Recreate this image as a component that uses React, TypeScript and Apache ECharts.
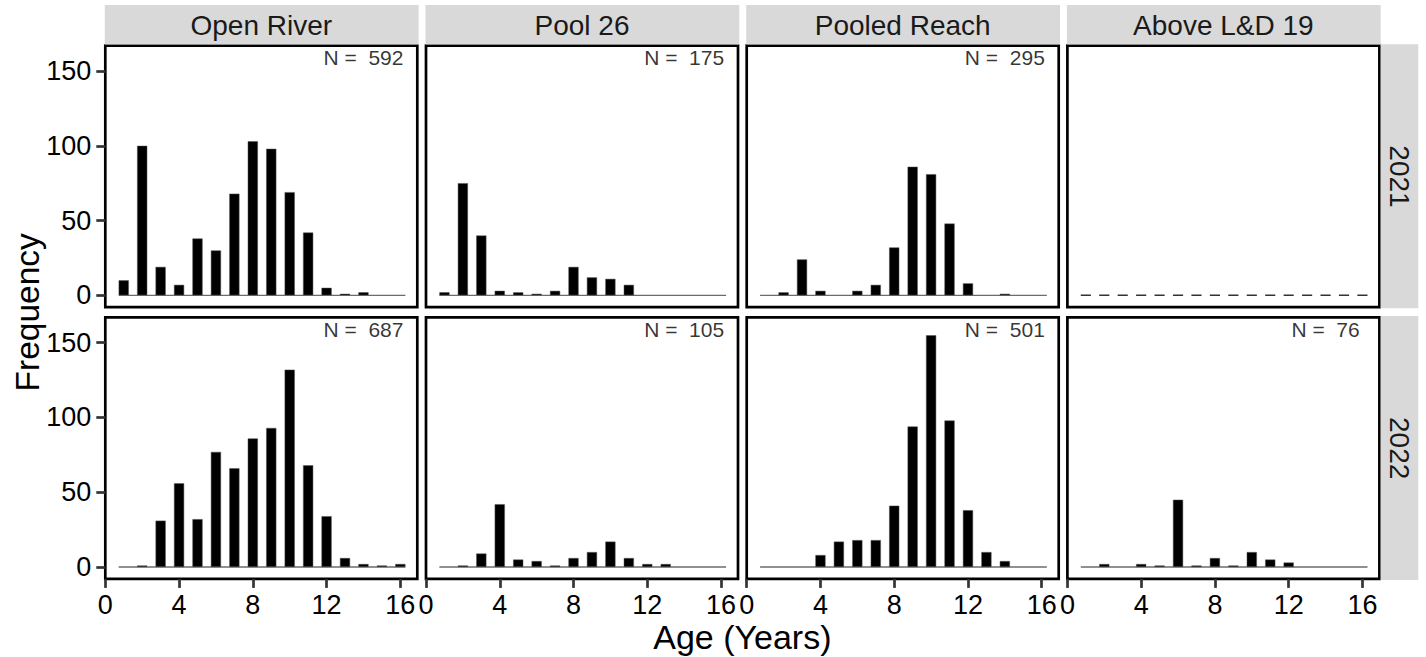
import React, { useEffect, useRef } from "react";
import * as echarts from "echarts";

// ---- data ----
const ages = [1, 2, 3, 4, 5, 6, 7, 8, 9, 10, 11, 12, 13, 14, 15, 16];
const sites = ["Open River", "Pool 26", "Pooled Reach", "Above L&D 19"];
const years = ["2021", "2022"];

const openRiver2021 = [10, 100, 19, 7, 38, 30, 68, 103, 98, 69, 42, 5, 1, 2, 0, 0];
const pool26_2021 = [2, 75, 40, 3, 2, 1, 3, 19, 12, 11, 7, 0, 0, 0, 0, 0];
const pooledReach2021 = [0, 2, 24, 3, 0, 3, 7, 32, 86, 81, 48, 8, 0, 1, 0, 0];
const aboveLD19_2021 = [0, 0, 0, 0, 0, 0, 0, 0, 0, 0, 0, 0, 0, 0, 0, 0];

const openRiver2022 = [0, 1, 31, 56, 32, 77, 66, 86, 93, 132, 68, 34, 6, 2, 1, 2];
const pool26_2022 = [0, 1, 9, 42, 5, 4, 1, 6, 10, 17, 6, 2, 2, 0, 0, 0];
const pooledReach2022 = [0, 0, 0, 8, 17, 18, 18, 41, 94, 155, 98, 38, 10, 4, 0, 0];
const aboveLD19_2022 = [0, 2, 0, 2, 1, 45, 1, 6, 1, 10, 5, 3, 0, 0, 0, 0];

const nLabels2021 = ["592", "175", "295", null];
const nLabels2022 = ["687", "105", "501", "76"];

const xTicks = [0, 4, 8, 12, 16];
const yTicks = [0, 50, 100, 150];

const panelValues = [
  [openRiver2021, pool26_2021, pooledReach2021, aboveLD19_2021],
  [openRiver2022, pool26_2022, pooledReach2022, aboveLD19_2022],
];
const panelN = [nLabels2021, nLabels2022];
// panels with no observations (drawn as outlined zero bars -> dashed baseline)
const emptyPanel = [
  [false, false, false, true],
  [false, false, false, false],
];

// ---- layout / style ----
const FONT = "'Liberation Sans', Arial, Helvetica, sans-serif";
const colLeft = [105.3, 426, 746.7, 1067.4];
const panelW = 312;
const rowTop = [45.7, 317.4];
const panelH = 261.5;
const X_MIN = 0;
const X_MAX = 16.92;
const Y_MIN = -7.95;
const Y_MAX = 166.95;
const BAR_W_UNITS = 0.55;
const pxPerX = panelW / (X_MAX - X_MIN);

export default function App() {
  const ref = useRef<HTMLDivElement>(null);

  useEffect(() => {
    if (!ref.current) return;
    const chart = echarts.init(ref.current, null, { renderer: "svg" });

    const grids: any[] = [];
    const xAxes: any[] = [];
    const yAxes: any[] = [];
    const series: any[] = [];
    const graphics: any[] = [];

    let gi = 0;
    for (let r = 0; r < 2; r++) {
      for (let c = 0; c < 4; c++) {
        grids.push({
          left: colLeft[c],
          top: rowTop[r],
          width: panelW,
          height: panelH,
          show: true,
          borderColor: "#000",
          borderWidth: 2.7,
          backgroundColor: "#fff",
          containLabel: false,
        });
        xAxes.push({
          type: "value",
          gridIndex: gi,
          position: "bottom",
          min: X_MIN,
          max: X_MAX,
          axisLine: { show: false, onZero: false },
          splitLine: { show: false },
          axisTick: {
            show: r === 1,
            inside: false,
            customValues: xTicks,
            length: 9,
            lineStyle: { color: "#333", width: 2.7 },
          },
          axisLabel: {
            show: r === 1,
            customValues: xTicks,
            margin: 13,
            fontSize: 27,
            color: "#000",
            fontFamily: FONT,
          },
        });
        yAxes.push({
          type: "value",
          gridIndex: gi,
          position: "left",
          min: Y_MIN,
          max: Y_MAX,
          axisLine: { show: false, onZero: false },
          splitLine: { show: false },
          axisTick: {
            show: c === 0,
            inside: false,
            customValues: yTicks,
            length: 9,
            lineStyle: { color: "#333", width: 2.7 },
          },
          axisLabel: {
            show: c === 0,
            customValues: yTicks,
            margin: 14,
            fontSize: 27,
            color: "#000",
            fontFamily: FONT,
          },
        });

        const vals = panelValues[r][c];
        const half = BAR_W_UNITS / 2;
        const dash = BAR_W_UNITS * pxPerX;
        const gap = (1 - BAR_W_UNITS) * pxPerX;
        // baseline at zero
        series.push({
          type: "line",
          xAxisIndex: gi,
          yAxisIndex: gi,
          data: [
            [ages[0] - half, 0],
            [ages[ages.length - 1] + half, 0],
          ],
          symbol: "none",
          silent: true,
          z: 1,
          lineStyle: {
            color: emptyPanel[r][c] ? "#333" : "#6b6b6b",
            width: emptyPanel[r][c] ? 1.6 : 1.3,
            type: emptyPanel[r][c] ? [dash, gap] : "solid",
          },
        });
        // bars
        series.push({
          type: "bar",
          xAxisIndex: gi,
          yAxisIndex: gi,
          barWidth: BAR_W_UNITS * pxPerX,
          z: 2,
          silent: true,
          data: ages
            .map((a, i) => [a, vals[i]])
            .filter((d) => d[1] > 0),
          itemStyle: { color: "#000", borderColor: "#555", borderWidth: 0.5 },
        });
        // N label
        const n = panelN[r][c];
        if (n) {
          series.push({
            type: "scatter",
            xAxisIndex: gi,
            yAxisIndex: gi,
            data: [[14, 159]],
            symbolSize: 1,
            silent: true,
            itemStyle: { color: "rgba(0,0,0,0)" },
            z: 3,
            label: {
              show: true,
              position: "inside",
              formatter: "N =  " + n,
              fontSize: 21,
              color: "#000",
              fontFamily: FONT,
            },
          });
        }
        gi++;
      }
    }

    // top strips
    for (let c = 0; c < 4; c++) {
      graphics.push({
        type: "rect",
        shape: { x: colLeft[c] - 0.5, y: 5, width: panelW + 1.8, height: 39.4 },
        style: { fill: "#d9d9d9" },
        z: 0,
      });
      graphics.push({
        type: "text",
        x: colLeft[c] + panelW / 2,
        y: 25,
        style: {
          text: sites[c],
          fontSize: 28,
          fontFamily: FONT,
          fill: "#1a1a1a",
          align: "center",
          verticalAlign: "middle",
        },
        z: 1,
      });
    }
    // right strips
    for (let r = 0; r < 2; r++) {
      graphics.push({
        type: "rect",
        shape: { x: colLeft[3] + panelW + 1.3, y: rowTop[r] - 1.4, width: 37.6, height: panelH + 2.4 },
        style: { fill: "#d9d9d9" },
        z: 0,
      });
      graphics.push({
        type: "text",
        x: colLeft[3] + panelW + 1.3 + 18.8,
        y: rowTop[r] + panelH / 2,
        rotation: -Math.PI / 2,
        style: {
          text: years[r],
          fontSize: 28,
          fontFamily: FONT,
          fill: "#1a1a1a",
          align: "center",
          verticalAlign: "middle",
        },
        z: 1,
      });
    }
    // axis titles
    graphics.push({
      type: "text",
      x: 27,
      y: (rowTop[0] + rowTop[1] + panelH) / 2,
      rotation: Math.PI / 2,
      style: {
        text: "Frequency",
        fontSize: 33.5,
        fontFamily: FONT,
        fill: "#000",
        align: "center",
        verticalAlign: "middle",
      },
    });
    graphics.push({
      type: "text",
      x: (colLeft[0] + colLeft[3] + panelW) / 2,
      y: 637,
      style: {
        text: "Age (Years)",
        fontSize: 34,
        fontFamily: FONT,
        fill: "#000",
        align: "center",
        verticalAlign: "middle",
      },
    });

    chart.setOption({
      animation: false,
      backgroundColor: "#fff",
      grid: grids,
      xAxis: xAxes,
      yAxis: yAxes,
      series,
      graphic: { elements: graphics },
    });

    return () => chart.dispose();
  }, []);

  return (
    <div
      ref={ref}
      style={{ position: "fixed", left: 0, top: 0, width: 1426, height: 657 }}
    />
  );
}
